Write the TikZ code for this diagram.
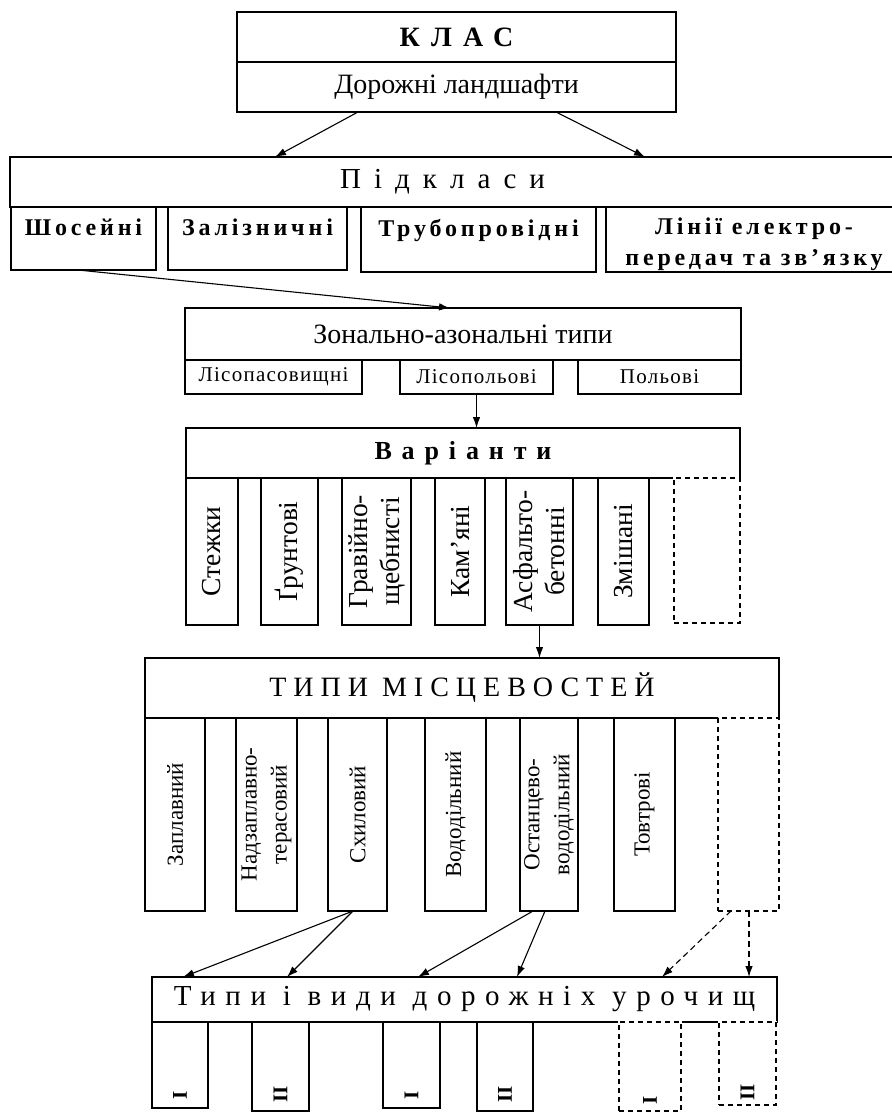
\documentclass[tikz,border=0pt]{standalone}
\usepackage{fontspec}
\setmainfont{Liberation Serif}
\usetikzlibrary{arrows.meta}
\newcommand{\fs}[2]{\fontsize{#1}{#2}\selectfont}
\newcommand{\ls}[1]{\addfontfeatures{LetterSpace=#1}}
% name, x1, y1, x2, y2, options, text
\newcommand{\bx}[7]{\node[box,#6,minimum width={(#4-#2)*1pt},minimum height={(#5-#3)*1pt},anchor=north west] (#1) at (#2,#3) {#7};}
\begin{document}
\begin{tikzpicture}[x=1pt,y=-1pt,
  box/.style={draw=black,line width=1.4pt,fill=white,inner sep=0pt,outer sep=0pt},
  dbox/.style={box,dash pattern=on 5pt off 4pt,preaction={draw=white,line width=2.6pt,solid}},
  arr/.style={-{Latex[length=11pt,width=7.5pt]},line width=1.1pt},
  darr/.style={arr,dash pattern=on 6pt off 4pt},
  txt/.style={inner sep=0pt,align=center},
  vt/.style={rotate=90,align=center,inner sep=0pt,font=\fs{27.5}{32}},
  vs/.style={rotate=90,align=center,inner sep=0pt,font=\fs{23}{30}},
  num/.style={rotate=90,inner sep=0pt,font=\bfseries\fs{21}{22}},
  sub/.style={txt,font=\bfseries\fs{24}{31}\ls{16}}
]
\useasboundingbox (0,0) rectangle (891,1113);

% ---- Class
\bx{klas}{237}{12}{676}{62}{font=\bfseries\fs{28}{30}\ls{40}}{КЛАС}
\bx{dor}{237}{62}{676}{112}{font=\fs{28}{30}}{Дорожні ландшафти}

% ---- Subclasses
\bx{pidk}{10}{157}{893}{207}{}{}
\node[txt,font=\fs{29}{30}\ls{45}] (pidkt) at ([xshift=-9pt]pidk.center) {Підкласи};
\bx{shos}{11}{207}{156}{270}{}{}
\bx{zal}{168}{207}{347}{270}{}{}
\bx{trub}{361}{207}{596}{272}{}{}
\bx{lin}{606}{207}{905}{272}{}{}
\node[sub,anchor=north] (shost) at ([yshift=-12pt]shos.north) {Шосейні};
\node[sub,anchor=north] (zalt) at ([yshift=-12pt]zal.north) {Залізничні};
\node[sub,anchor=north] (trubt) at ([yshift=-12pt]trub.north) {Трубопровідні};
\node[sub,anchor=north] (lint) at ([xshift=148pt,yshift=-11pt]lin.north west) {Лінії електро-\\передач та зв’язку};

% ---- Zonal types
\bx{zon}{185}{308}{741}{360}{font=\fs{28}{30}}{Зонально-азональні типи}
\bx{lispas}{185}{360}{362}{394}{font=\fs{21}{22}\ls{6}}{Лісопасовищні}
\bx{lispol}{400}{360}{553}{394}{font=\fs{21}{22}\ls{6}}{Лісопольові}
\bx{pol}{578}{360}{741}{394}{font=\fs{21}{22}\ls{6}}{Польові}

% ---- Variants
\bx{var}{186}{428}{740}{478}{font=\bfseries\fs{26}{28}\ls{38}}{Варіанти}
\bx{c1}{186}{478}{238}{625}{}{}
\bx{c2}{261}{478}{318}{625}{}{}
\bx{c3}{342}{478}{411}{625}{}{}
\bx{c4}{435}{478}{485}{625}{}{}
\bx{c5}{506}{478}{573}{625}{}{}
\bx{c6}{598}{478}{649}{625}{}{}
\bx{c7}{674}{478}{740}{623}{dbox}{}
\node[vt] (c1t) at (c1) {Стежки};
\node[vt] (c2t) at (c2) {Ґрунтові};
\node[vt] (c3t) at (c3) {Гравійно-\\щебнисті};
\node[vt] (c4t) at (c4) {Кам’яні};
\node[vt] (c5t) at (c5) {Асфальто-\\бетонні};
\node[vt] (c6t) at (c6) {Змішані};

% ---- Terrain types
\bx{tipy}{145}{658}{779}{718}{font=\fs{28}{30}\ls{25}}{ТИПИ МІСЦЕВОСТЕЙ}
\bx{d1}{145}{718}{205}{911}{}{}
\bx{d2}{236}{718}{297}{911}{}{}
\bx{d3}{328}{718}{387}{911}{}{}
\bx{d4}{425}{718}{486}{911}{}{}
\bx{d5}{520}{718}{578}{911}{}{}
\bx{d6}{614}{718}{675}{911}{}{}
\bx{d7}{718}{718}{779}{911}{dbox}{}
\node[vs] (d1t) at (d1) {Заплавний};
\node[vs] (d2t) at (d2) {Надзаплавно-\\терасовий};
\node[vs] (d3t) at (d3) {Схиловий};
\node[vs] (d4t) at (d4) {Вододільний};
\node[vs] (d5t) at (d5) {Останцево-\\вододільний};
\node[vs] (d6t) at (d6) {Товтрові};

% ---- Road tracts
\bx{uroch}{152}{977}{777}{1022}{font=\fs{29}{30}\ls{33}}{Типи і види дорожніх урочищ}
\bx{e1}{152}{1022}{208}{1108}{}{}
\bx{e2}{252}{1022}{309}{1111}{}{}
\bx{e3}{383}{1022}{440}{1108}{}{}
\bx{e4}{477}{1022}{533}{1111}{}{}
\bx{e5}{619}{1022}{681}{1111}{dbox}{}
\bx{e6}{719}{1022}{776}{1105}{dbox}{}
\node[num] (e1t) at ([yshift=13pt]e1.south) {I};
\node[num] (e2t) at ([yshift=17pt]e2.south) {II};
\node[num] (e3t) at ([yshift=13pt]e3.south) {I};
\node[num] (e4t) at ([yshift=17pt]e4.south) {II};
\node[num] (e5t) at ([yshift=11pt]e5.south) {I};
\node[num] (e6t) at ([yshift=13pt]e6.south) {II};

% ---- Connectors
\draw[arr] ([xshift=121pt]dor.south west) -- ([xshift=265pt]pidk.north west);
\draw[arr] ([xshift=319pt]dor.south west) -- ([xshift=635pt]pidk.north west);
\draw[arr] ([xshift=67pt]shos.south west) -- ([xshift=265pt]zon.north west);
\draw[arr] (lispol.south) -- (lispol.south |- var.north);
\draw[arr] (c5.south) -- (c5.south |- tipy.north);
\draw[arr] ([xshift=25pt]d3.south west) -- ([xshift=31pt]uroch.north west);
\draw[arr] ([xshift=25pt]d3.south west) -- ([xshift=135pt]uroch.north west);
\draw[arr] ([xshift=13pt]d5.south west) -- ([xshift=266pt]uroch.north west);
\draw[arr] ([xshift=25pt]d5.south west) -- ([xshift=365pt]uroch.north west);
\draw[darr] ([xshift=13pt]d7.south west) -- ([xshift=510pt]uroch.north west);
\draw[darr] ([xshift=31pt]d7.south west) -- ([xshift=31pt]d7.south west |- uroch.north);
\end{tikzpicture}
\end{document}
